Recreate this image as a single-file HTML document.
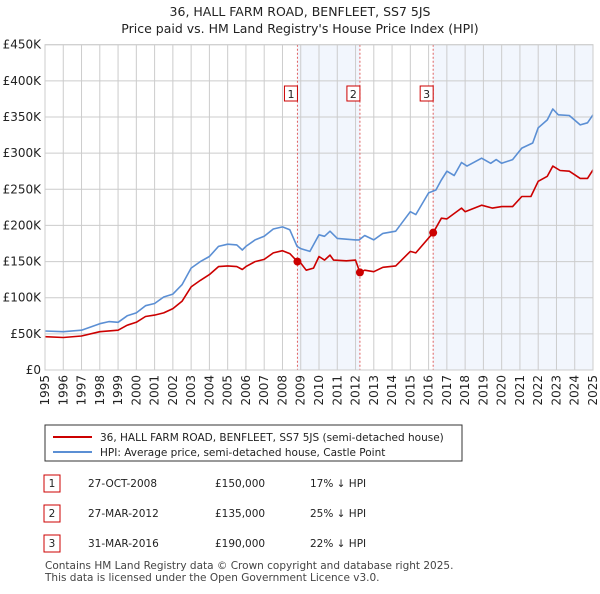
<!DOCTYPE html>
<html><head><meta charset="utf-8"><style>
body{margin:0;background:#fff;font-family:"DejaVu Sans","Liberation Sans",sans-serif;}
svg text{font-family:"DejaVu Sans","Liberation Sans",sans-serif;}
</style></head><body>
<svg width="600" height="590" viewBox="0 0 600 590" xmlns="http://www.w3.org/2000/svg">
<text x="300" y="16" text-anchor="middle" font-size="12.5" fill="#222">36, HALL FARM ROAD, BENFLEET, SS7 5JS</text>
<text x="300" y="33" text-anchor="middle" font-size="12.5" fill="#222">Price paid vs. HM Land Registry's House Price Index (HPI)</text>
<g id="plot"></g>
<g>
<rect x="45" y="425" width="417" height="36" fill="#fff" stroke="#333"/>
<line x1="53" y1="437" x2="92" y2="437" stroke="#cc0000" stroke-width="2"/>
<text x="100" y="441" font-size="10.5" fill="#222">36, HALL FARM ROAD, BENFLEET, SS7 5JS (semi-detached house)</text>
<line x1="53" y1="452" x2="92" y2="452" stroke="#5b8fd4" stroke-width="2"/>
<text x="100" y="456" font-size="10.5" fill="#222">HPI: Average price, semi-detached house, Castle Point</text>
</g>
<g font-size="10.5" fill="#222">
<rect x="44" y="475" width="16" height="17" fill="#fff" stroke="#cc0000"/><text x="52" y="487" text-anchor="middle">1</text>
<text x="88" y="487">27-OCT-2008</text><text x="215" y="487">£150,000</text><text x="310" y="487">17% ↓ HPI</text>
<rect x="44" y="505" width="16" height="17" fill="#fff" stroke="#cc0000"/><text x="52" y="517" text-anchor="middle">2</text>
<text x="88" y="517">27-MAR-2012</text><text x="215" y="517">£135,000</text><text x="310" y="517">25% ↓ HPI</text>
<rect x="44" y="535" width="16" height="17" fill="#fff" stroke="#cc0000"/><text x="52" y="547" text-anchor="middle">3</text>
<text x="88" y="547">31-MAR-2016</text><text x="215" y="547">£190,000</text><text x="310" y="547">22% ↓ HPI</text>
</g>
<text x="45" y="569" font-size="10.5" fill="#444">Contains HM Land Registry data © Crown copyright and database right 2025.</text>
<text x="45" y="581" font-size="10.5" fill="#444">This data is licensed under the Open Government Licence v3.0.</text>
</svg>
<script>
const hpiYears=[1995,1996,1997,1998,1998.5,1999,1999.5,2000,2000.5,2001,2001.5,2002,2002.5,2003,2003.5,2004,2004.5,2005,2005.5,2005.8,2006,2006.5,2007,2007.5,2008,2008.4,2008.8,2009,2009.5,2010,2010.3,2010.6,2011,2012,2012.2,2012.5,2013,2013.5,2014.2,2015,2015.3,2016,2016.4,2016.7,2017,2017.4,2017.8,2018.1,2018.9,2019.4,2019.7,2020,2020.6,2021.1,2021.7,2022,2022.5,2022.8,2023.1,2023.7,2024.3,2024.7,2025];
const hpiValues=[54,53,55,64,67,66,75,79,89,92,101,105,118,141,150,157,171,174,173,166,171,180,185,195,198,194,171,168,164,187,185,192,182,180,180,186,180,189,192,219,215,245,249,263,275,269,287,282,293,286,291,286,291,307,314,335,346,361,353,352,339,342,353];
const priceYears=[1995,1996,1997,1998,1999,1999.5,2000,2000.5,2001,2001.5,2002,2002.5,2003,2003.5,2004,2004.5,2005,2005.5,2005.8,2006,2006.5,2007,2007.5,2008,2008.4,2008.82,2009,2009.3,2009.7,2010,2010.3,2010.6,2010.8,2011.5,2012,2012.24,2012.5,2013,2013.5,2014.2,2015,2015.3,2016.25,2016.7,2017,2017.8,2018,2018.9,2019.5,2020,2020.6,2021.1,2021.6,2022,2022.5,2022.8,2023.2,2023.7,2024.3,2024.7,2025];
const priceValues=[46,45,47,53,55,62,66,74,76,79,85,95,115,124,132,143,144,143,139,143,150,153,162,165,161,150,148,138,141,157,152,159,152,151,152,135,138,136,142,144,164,162,190,210,209,224,219,228,224,226,226,240,240,261,268,282,276,275,265,265,277];
const saleYears=[2008.82,2012.24,2016.25];
const saleValues=[150,135,190];
const saleLabels=["1","2","3"];
const yTicks=[0,50,100,150,200,250,300,350,400,450];
const yTickLabels=["£0","£50K","£100K","£150K","£200K","£250K","£300K","£350K","£400K","£450K"];
const xTicks=[1995,1996,1997,1998,1999,2000,2001,2002,2003,2004,2005,2006,2007,2008,2009,2010,2011,2012,2013,2014,2015,2016,2017,2018,2019,2020,2021,2022,2023,2024,2025];

const NS="http://www.w3.org/2000/svg";
const L=45,R=593,T=44.7,B=370;
const xs=y=>L+(y-1995)*(R-L)/30;
const ys=v=>B-v*(B-T)/450;
const g=document.getElementById('plot');
function mk(tag,attrs,parent){const e=document.createElementNS(NS,tag);for(const k in attrs)e.setAttribute(k,attrs[k]);(parent||g).appendChild(e);return e;}
let s1=mk('rect',{x:xs(saleYears[0]),y:T,width:xs(saleYears[1])-xs(saleYears[0]),height:B-T,fill:'#eef3fc',opacity:0.75});


let s2=mk('rect',{x:xs(saleYears[2]),y:T,width:R-xs(saleYears[2]),height:B-T,fill:'#eef3fc',opacity:0.75});


yTicks.forEach((v,i)=>{
 let l=mk('line',{x1:L,x2:R,y1:ys(v),y2:ys(v),stroke:'#ccc','stroke-width':1});
 
 
 let t=mk('text',{x:L-4,y:ys(v)+4,'text-anchor':'end','font-size':12,fill:'#222'});
 t.textContent=yTickLabels[i];
 
 
});
xTicks.forEach(y=>{
 let l=mk('line',{x1:xs(y),x2:xs(y),y1:T,y2:B,stroke:'#ccc','stroke-width':1});
 
 
 let t=mk('text',{x:0,y:0,'text-anchor':'end','font-size':12,fill:'#222',transform:`translate(${xs(y)+4},${B+5}) rotate(-90)`});
 t.textContent=y;
 
 
});
saleYears.forEach((y,i)=>{
 let l=mk('line',{x1:xs(y),x2:xs(y),y1:T,y2:B,stroke:'#e06060','stroke-width':1,'stroke-dasharray':'2,2'});
 
 
 let r=mk('rect',{x:xs(y)-13,y:86,width:13,height:15,fill:'#fff',stroke:'#cc0000'});
 
 
 let t=mk('text',{x:xs(y)-6.5,y:98,'text-anchor':'middle','font-size':11,fill:'#222'});
 t.textContent=saleLabels[i];
 
 
});
function path(xa,va,color,name){
 let d=xa.map((x,i)=>(i?'L':'M')+xs(x).toFixed(1)+','+ys(va[i]).toFixed(1)).join('');
 let p=mk('path',{d:d,fill:'none',stroke:color,'stroke-width':1.6,'stroke-linejoin':'round'});
 
 
}
path(hpiYears,hpiValues,'#5b8fd4','hpi-line');
path(priceYears,priceValues,'#cc0000','price-paid-line');
saleYears.forEach((y,i)=>{
 let c=mk('circle',{cx:xs(y),cy:ys(saleValues[i]),r:4,fill:'#cc0000'});
 
 
});
let ax=mk('rect',{x:L,y:T,width:R-L,height:B-T,fill:'none',stroke:'#ccc'});


</script>
</body></html>
